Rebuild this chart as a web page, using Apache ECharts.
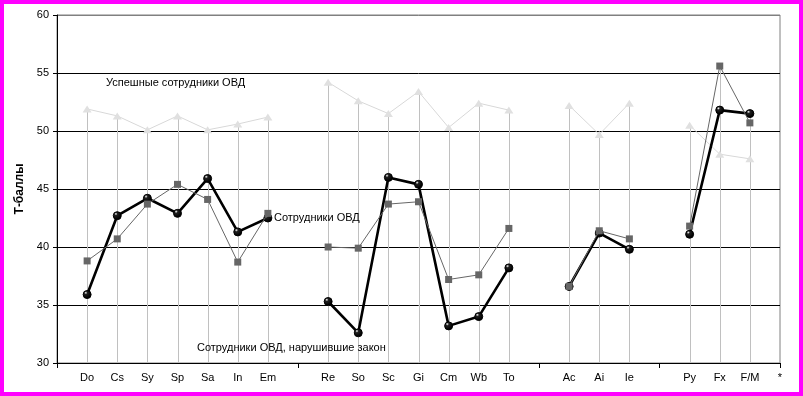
<!DOCTYPE html>
<html><head><meta charset="utf-8">
<script src="https://cdn.jsdelivr.net/npm/echarts@6/dist/echarts.min.js"></script>
<style>
html,body{margin:0;padding:0;background:#ff00ff;width:803px;height:396px;overflow:hidden}
#c{position:absolute;left:4px;top:4px;width:795px;height:388px;background:#fff}
</style></head><body>
<div id="c"></div>
<script>
const categories = ['', 'Do','Cs','Sy','Sp','Sa','In','Em', '', 'Re','So','Sc','Gi','Cm','Wb','To', '', 'Ac','Ai','Ie', '', 'Py','Fx','F/M','*'];
const successful = [null, 51.9,51.3,50.1,51.3,50.1,50.6,51.2, null, 54.2,52.6,51.5,53.4,50.3,52.4,51.8, null, 52.2,49.7,52.4, null, 50.5,48.0,47.6, null];
const employees  = [null, 38.8,40.7,43.7,45.4,44.1,38.7,42.9, null, 40.0,39.9,43.7,43.9,37.2,37.6,41.6, null, 36.6,41.4,40.7, null, 41.8,55.6,50.7, null];
const offenders  = [null, 35.9,42.7,44.2,42.9,45.9,41.3,42.5, null, 35.3,32.6,46.0,45.4,33.2,34.0,38.2, null, 36.6,41.2,39.8, null, 41.1,51.8,51.5, null];
const yTicks = [30,35,40,45,50,55,60];
const seriesNames = ['Успешные сотрудники ОВД', 'Сотрудники ОВД', 'Сотрудники ОВД, нарушившие закон'];

const dropData = categories.map((c, i) => {
  const vals = [successful[i], employees[i], offenders[i]].filter(v => v != null);
  return vals.length ? [i, Math.max(...vals)] : [i, null];
});

const chart = echarts.init(document.getElementById('c'), null, {renderer: 'canvas'});
const FONT = '"Liberation Sans", Arial, sans-serif';
const circleFill = new echarts.graphic.RadialGradient(0.35, 0.3, 0.6, [
  {offset: 0, color: '#ffffff'}, {offset: 0.3, color: '#202020'}, {offset: 1, color: '#000000'}
]);

chart.setOption({
  animation: false,
  textStyle: {fontFamily: FONT},
  grid: {left: 53, top: 11, right: 19, bottom: 29, show: true, borderColor: '#808080', borderWidth: 1, backgroundColor: 'transparent', containLabel: false, outerBoundsMode: 'none'},
  xAxis: {
    type: 'category', data: categories, boundaryGap: false,
    axisLine: {lineStyle: {color: '#000', width: 1}},
    axisTick: {show: true, length: 5, interval: (i, v) => v === '' || v === '*', lineStyle: {color: '#000'}},
    axisLabel: {interval: 0, color: '#000', fontSize: 11, fontFamily: FONT, margin: 9},
    splitLine: {show: false}
  },
  yAxis: {
    type: 'value', min: yTicks[0], max: yTicks[yTicks.length-1], interval: 5,
    name: 'Т-баллы', nameLocation: 'middle', nameGap: 29, nameRotate: 90,
    nameTextStyle: {fontWeight: 'bold', fontSize: 12, color: '#000', fontFamily: FONT},
    axisLine: {show: true, lineStyle: {color: '#000', width: 1}},
    axisTick: {show: true, length: 4, lineStyle: {color: '#000'}},
    axisLabel: {color: '#000', fontSize: 11, fontFamily: FONT, margin: 8},
    splitLine: {show: true, lineStyle: {color: ['#000','#000','#000','#000','#000','#000','#808080'], width: 1}}
  },
  series: [
    {
      type: 'custom', name: 'drop', data: dropData, z: 1, silent: true,
      renderItem: (params, api) => {
        const v = api.value(1);
        if (v == null || isNaN(v)) return;
        const top = api.coord([api.value(0), v]);
        const bot = api.coord([api.value(0), yTicks[0]]);
        return {type: 'line', shape: {x1: Math.round(top[0]) + 0.5, y1: top[1], x2: Math.round(bot[0]) + 0.5, y2: bot[1]},
          style: {stroke: '#c0c0c0', lineWidth: 1}};
      }
    },
    {
      type: 'line', name: seriesNames[0], data: successful, z: 2,
      symbol: 'triangle', symbolSize: [9, 7], connectNulls: false,
      lineStyle: {color: '#d8d8d8', width: 1},
      itemStyle: {color: '#e0e0e0', borderWidth: 0}
    },
    {
      type: 'line', name: seriesNames[2], data: offenders, z: 3,
      symbol: 'circle', symbolSize: 8, connectNulls: false,
      lineStyle: {color: '#000', width: 2.6},
      itemStyle: {color: circleFill, borderColor: '#000', borderWidth: 1}
    },
    {
      type: 'line', name: seriesNames[1], data: employees, z: 4,
      symbol: 'rect', symbolSize: 7, connectNulls: false,
      lineStyle: {color: '#666', width: 1},
      itemStyle: {color: '#666', borderWidth: 0}
    }
  ],
  graphic: [
    {type: 'text', left: 102, top: 73, z: 10, style: {text: seriesNames[0], fill: '#000', font: '11px ' + FONT}},
    {type: 'text', left: 270, top: 208, z: 10, style: {text: seriesNames[1], fill: '#000', font: '11px ' + FONT}},
    {type: 'text', left: 193, top: 338, z: 10, style: {text: seriesNames[2], fill: '#000', font: '11px ' + FONT}}
  ]
});
</script>
</body></html>
